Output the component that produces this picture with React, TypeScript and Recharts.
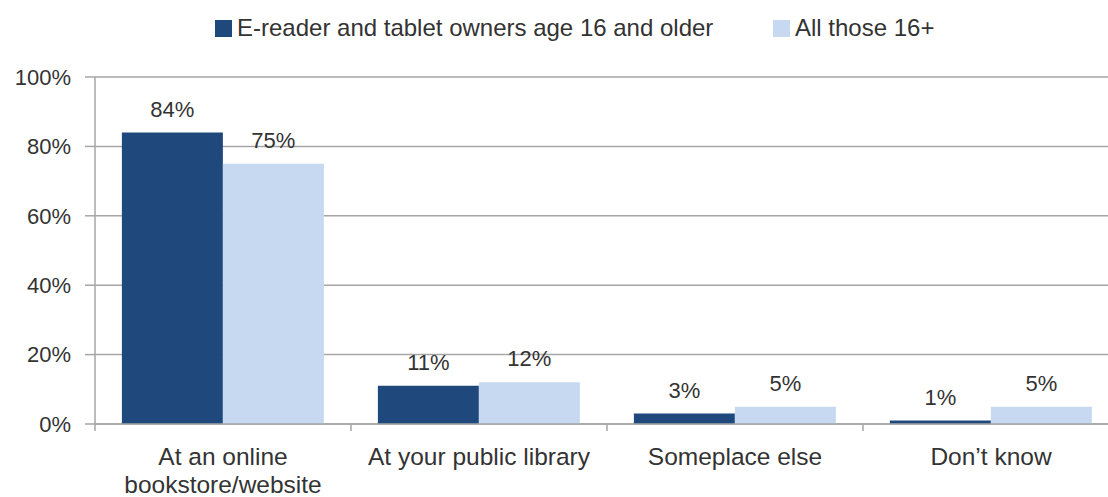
import React from 'react';
import { BarChart, Bar, XAxis, YAxis, CartesianGrid, Legend, LabelList } from 'recharts';

// line breaks as they appear under the axis
const categories = ['At an online\nbookstore/website', 'At your public library', 'Someplace else', 'Don’t know'];
const ownersValues = [84, 11, 3, 1];
const allValues = [75, 12, 5, 5];
const yTicks = [0, 20, 40, 60, 80, 100];

const seriesNames = {
  owners: 'E-reader and tablet owners age 16 and older',
  all: 'All those 16+',
};

const DARK = '#1f497d';
const LIGHT = '#c6d9f1';
const GRID = '#a6a6a6';
const INK = '#333333';
const FONT = '"Liberation Sans", Arial, sans-serif';

const CHART_W = 1130;
const CHART_H = 497;
const MARGIN = { top: 10, right: 11, left: 0, bottom: 0 };
const Y_AXIS_W = 95;
const STEP = (CHART_W - MARGIN.right - MARGIN.left - Y_AXIS_W) / categories.length;

const data = categories.map((name, i) => ({
  name,
  owners: ownersValues[i],
  all: allValues[i],
}));

const CategoryTick = (props: any) => {
  const { x, y, payload, index } = props;
  const lines = String(payload.value).split('\n');
  return (
    <g>
      {index === 0 && <line x1={x - STEP / 2} x2={x - STEP / 2} y1={y} y2={y + 7} stroke={GRID} strokeWidth={1.5} />}
      <line x1={x + STEP / 2} x2={x + STEP / 2} y1={y} y2={y + 7} stroke={GRID} strokeWidth={1.5} />
      <text x={x} y={y + 41} textAnchor="middle" fill={INK} style={{ fontSize: 24.5, fontFamily: FONT }}>
        {lines.map((line, i) => (
          <tspan key={i} x={x} dy={i === 0 ? 0 : 27.5}>
            {line}
          </tspan>
        ))}
      </text>
    </g>
  );
};

const LegendContent = () => (
  <div style={{ height: 67, position: 'relative', fontFamily: FONT, fontSize: 24, color: INK }}>
    {[
      { left: 215, color: DARK, label: seriesNames.owners },
      { left: 773, color: LIGHT, label: seriesNames.all },
    ].map((item) => (
      <div
        key={item.label}
        style={{ position: 'absolute', left: item.left, top: 6, height: 24, display: 'flex', alignItems: 'center', whiteSpace: 'nowrap' }}
      >
        <span style={{ width: 17, height: 17, background: item.color, display: 'inline-block', marginRight: 5 }} />
        <span>{item.label}</span>
      </div>
    ))}
  </div>
);

export default function App() {
  return (
    <div style={{ width: 1108, height: 497, overflow: 'hidden', background: '#fff', position: 'relative' }}>
      <style>{'body { margin: 0; }'}</style>
      <BarChart
        width={CHART_W}
        height={CHART_H}
        data={data}
        margin={MARGIN}
        barCategoryGap="10.5%"
        barGap={0}
      >
        <CartesianGrid vertical={false} stroke={GRID} strokeWidth={1.5} />
        <Legend
          verticalAlign="top"
          align="left"
          content={<LegendContent />}
          wrapperStyle={{ top: MARGIN.top, left: 0, width: 1108 }}
        />
        <XAxis
          dataKey="name"
          height={CHART_H - 424}
          interval={0}
          tickSize={0}
          tickMargin={0}
          axisLine={{ stroke: GRID, strokeWidth: 1.5 }}
          tickLine={false}
          tick={<CategoryTick />}
        />
        <YAxis
          width={Y_AXIS_W}
          domain={[0, 100]}
          ticks={yTicks}
          interval={0}
          tickFormatter={(v: number) => `${v}%`}
          axisLine={{ stroke: GRID, strokeWidth: 1.5 }}
          tickLine={{ stroke: GRID, strokeWidth: 1.5 }}
          tickSize={10}
          tickMargin={14}
          tick={{ fill: INK, fontSize: 22, fontFamily: FONT }}
        />
        <Bar dataKey="owners" name={seriesNames.owners} fill={DARK} isAnimationActive={false}>
          <LabelList
            dataKey="owners"
            position="top"
            offset={16}
            formatter={(v: any) => `${v}%`}
            style={{ fill: INK, fontSize: 22, fontFamily: FONT }}
          />
        </Bar>
        <Bar dataKey="all" name={seriesNames.all} fill={LIGHT} isAnimationActive={false}>
          <LabelList
            dataKey="all"
            position="top"
            offset={16}
            formatter={(v: any) => `${v}%`}
            style={{ fill: INK, fontSize: 22, fontFamily: FONT }}
          />
        </Bar>
      </BarChart>
    </div>
  );
}
